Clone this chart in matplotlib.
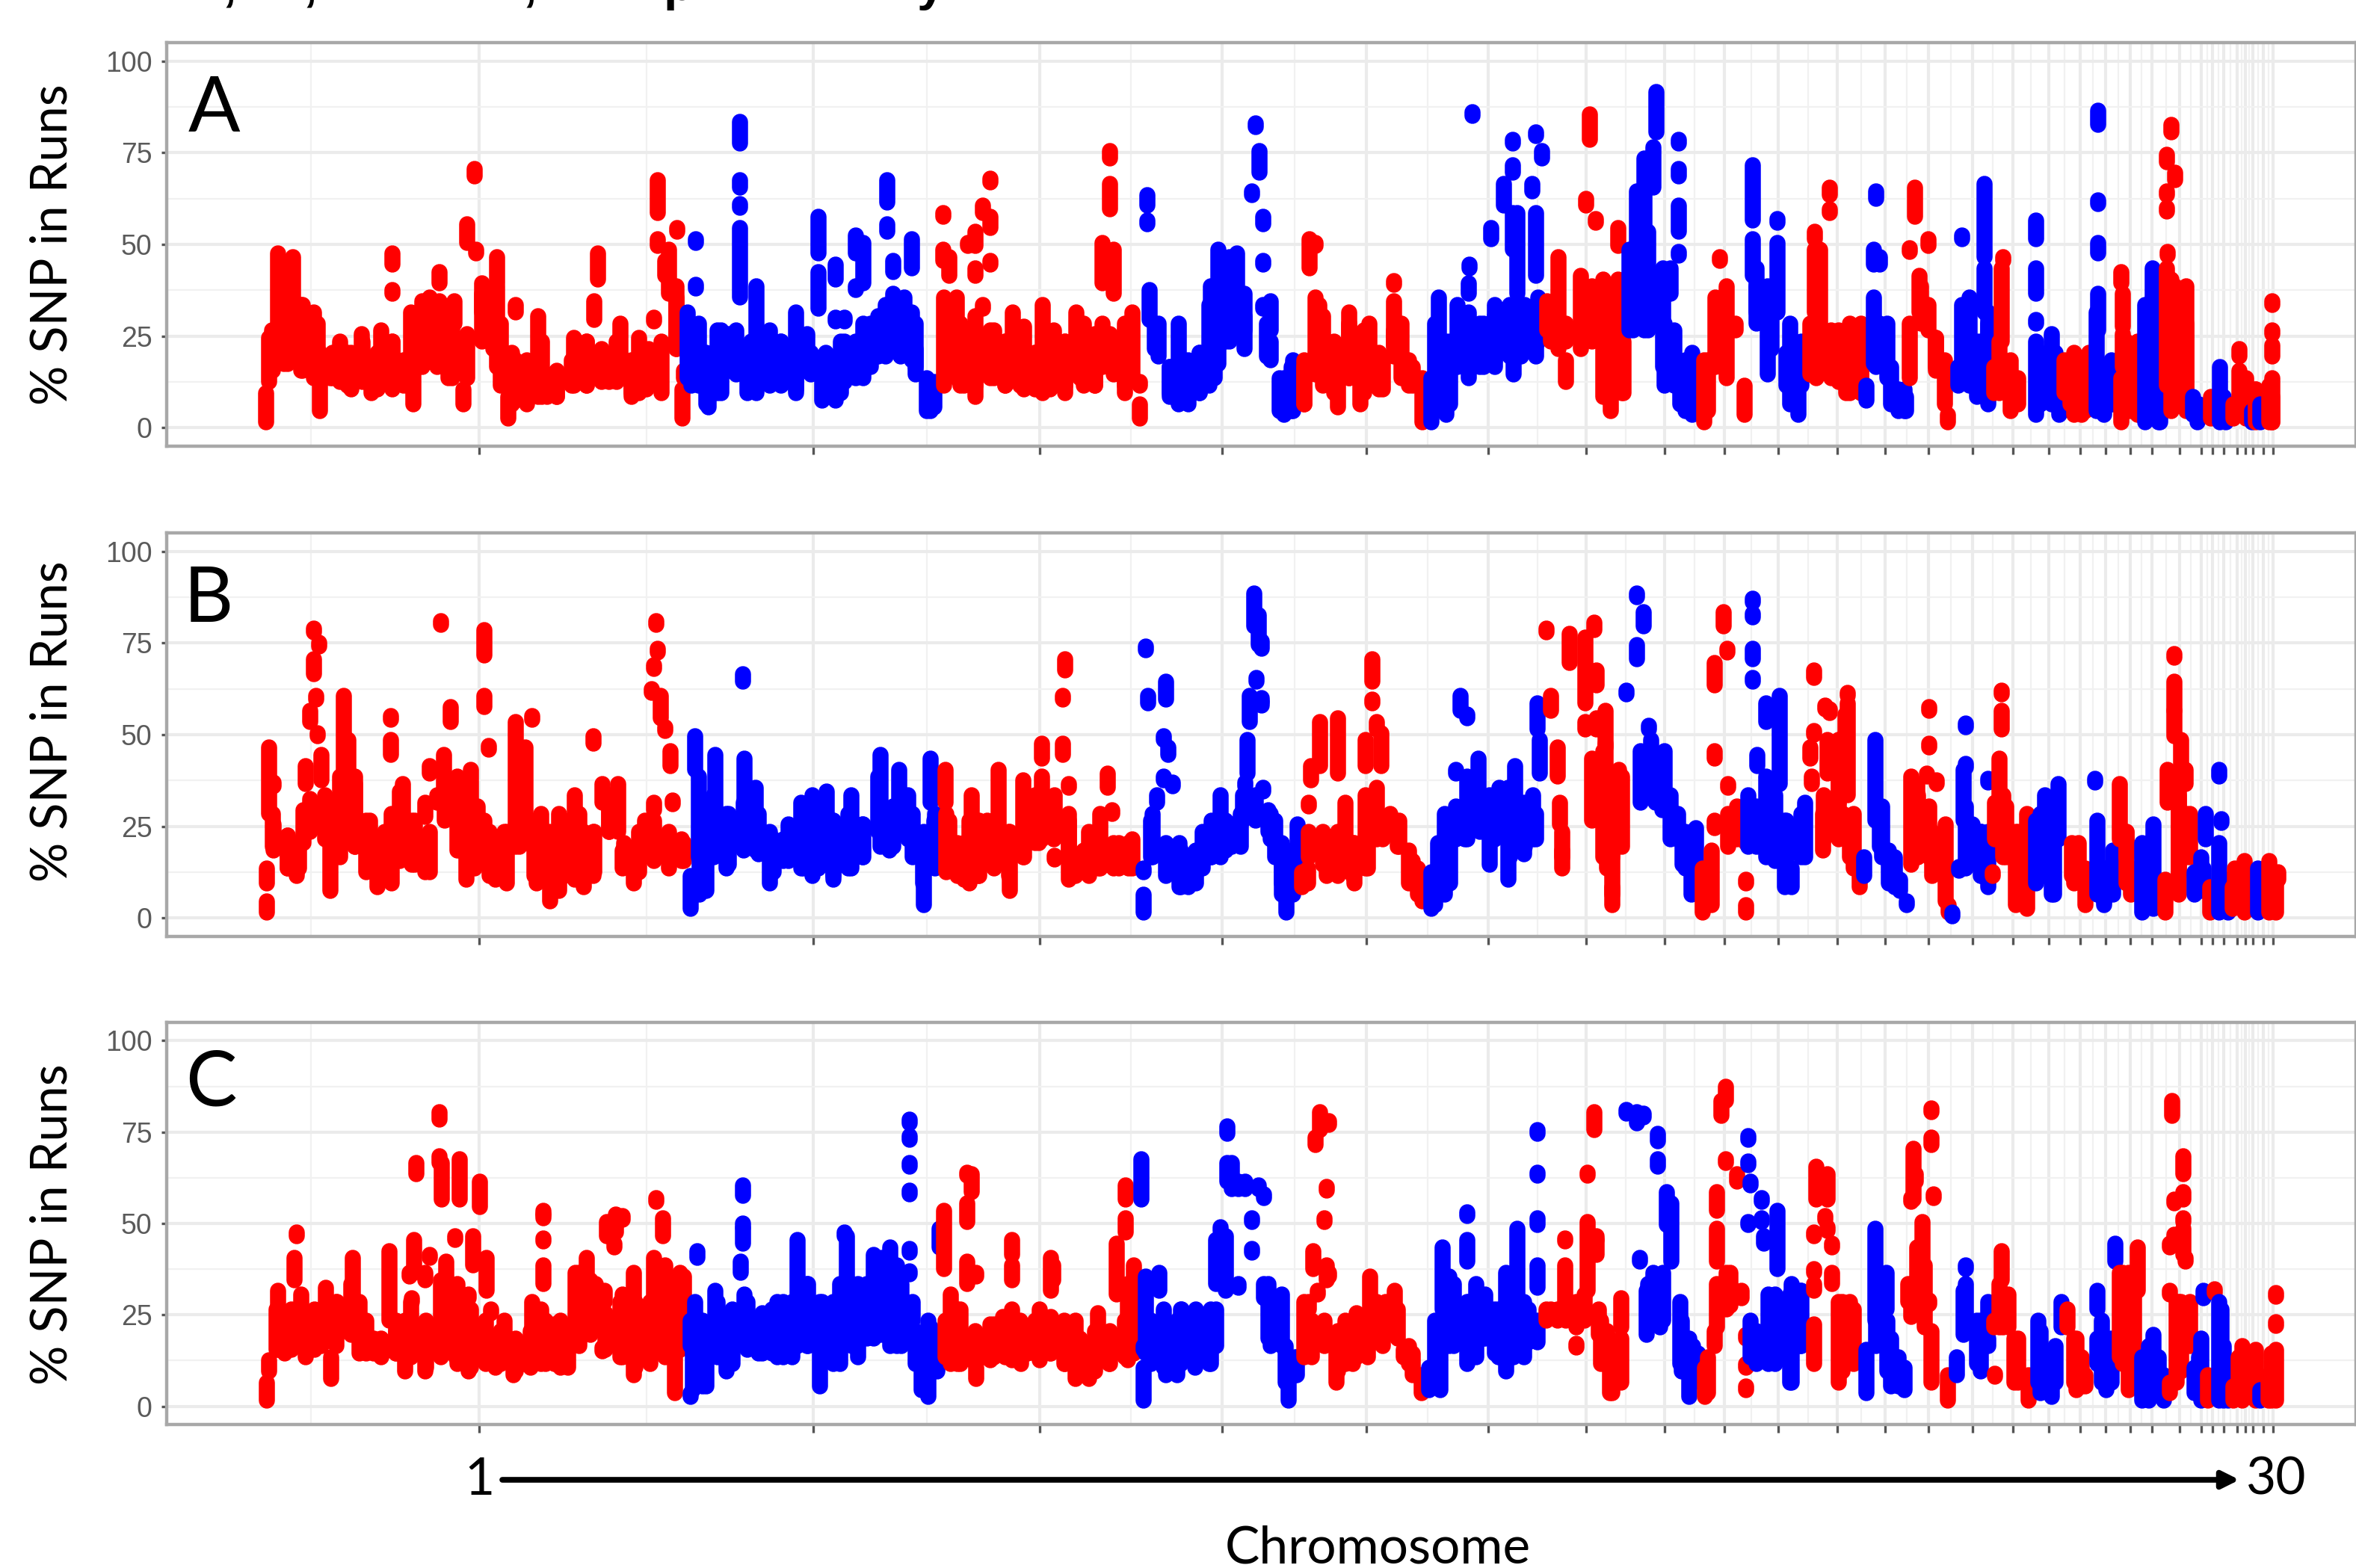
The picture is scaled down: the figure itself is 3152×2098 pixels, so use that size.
import numpy as np
import matplotlib
matplotlib.use("Agg")
import matplotlib.pyplot as plt
from matplotlib.collections import LineCollection
from matplotlib.patches import FancyArrowPatch

# genome position runs (low/high = % SNP in runs)
a_pos = [356, 360, 364, 372, 380, 392, 403, 420, 420, 428, 442, 455, 470, 484, 497, 510,
         525, 525, 525, 540, 553, 550, 565, 575, 588, 588, 600, 608, 620, 620, 625, 635,
         637, 645, 660, 665, 670, 680, 690, 690, 705, 720, 732, 745, 768, 785, 795, 800,
         805, 815, 830, 845, 855, 868, 875, 880, 880, 890, 895, 906, 905, 915, 913,
         920, 931, 931, 935, 948, 960, 975, 990, 990, 990, 990, 1012, 1000, 1030, 1045, 1065, 1080,
         1095, 1095, 1100, 1118, 1118, 1118, 1130, 1130, 1145, 1145, 1155, 1155, 1175, 1187, 1187, 1195,
         1195, 1210, 1220, 1220, 1225, 1240, 1250,
         1262, 1262, 1263, 1270, 1280, 1290, 1295, 1305, 1305, 1305, 1315, 1315, 1325, 1325, 1325, 1330,
         1345, 1355, 1370, 1385, 1395, 1410, 1425, 1440, 1450, 1465, 1475, 1475, 1485, 1485, 1490, 1490,
         1505, 1515, 1525, 1525,
         1535, 1535, 1538, 1550, 1565, 1577, 1590, 1605, 1618, 1620, 1630, 1640, 1655, 1665, 1675, 1680,
         1685, 1690, 1690, 1690, 1700, 1700, 1718, 1730,
         1745, 1752, 1760, 1760, 1770, 1790, 1805, 1820, 1832, 1850, 1865, 1865, 1875, 1890, 1903,
         1915, 1925, 1935, 1950, 1965, 1965, 1966, 1970, 1985, 2000, 1995, 2012, 2024, 2024, 2024, 2025,
         2030, 2035, 2050, 2055, 2063, 2055, 2055,
         2070, 2085, 2095, 2115, 2127, 2122, 2135, 2130, 2145, 2155, 2155, 2165, 2165, 2172,
         2180, 2190, 2200, 2216, 2212, 2227, 2246, 2246, 2246, 2246, 2235, 2248, 2264,
         2280, 2295, 2301, 2310, 2322, 2334,
         2345, 2345, 2350, 2365, 2378, 2378, 2395, 2406,
         2422, 2428, 2428, 2435, 2448, 2448, 2460, 2475, 2490,
         2497, 2507, 2507, 2510, 2515, 2515, 2525, 2540, 2550,
         2555, 2555, 2562, 2568, 2580, 2580, 2590, 2602, 2606,
         2620, 2625, 2625, 2635, 2645, 2655, 2655, 2660,
         2668, 2678, 2680, 2690, 2700,
         2724, 2724, 2724, 2724, 2735, 2745, 2755,
         2762, 2775, 2785, 2795,
         2807, 2807, 2807, 2807, 2805, 2815, 2825,
         2838, 2840, 2840, 2838, 2850, 2860,
         2870, 2880, 2890,
         2899, 2899, 2899, 2900, 2910, 2905, 2905, 2925, 2899,
         2940, 2934, 2958, 2970, 2978,
         2996, 2996, 2988, 3005, 3013, 3018, 3024, 3040, 3040, 3040, 3040, 3036]
a_low = [0, 11, 14, 18, 16, 20, 14, 20, 12, 3, 12, 11, 9, 12, 8, 11,
         9, 36, 43, 10, 5, 18, 18, 23, 18, 38, 12, 27, 5, 13, 49, 67,
         46, 30, 20, 38, 10, 1, 6, 30, 5, 7, 7, 7, 10, 10, 28, 39,
         12, 11, 18, 7, 8, 10, 28, 48, 57, 40, 35, 52, 20, 12, 1,
         12, 49, 37, 10, 4, 8, 14, 76, 64, 59, 34, 8, 8, 10, 10, 8, 14,
         46, 31, 6, 6, 39, 28, 11, 28, 46, 36, 12, 38, 18, 52, 60, 20,
         41, 20, 17, 42, 13, 3, 4,
         57, 44, 10, 40, 12, 10, 49, 7, 40, 48, 57, 31, 67, 44, 53, 12,
         10, 12, 9, 9, 8, 10, 10, 15, 10, 10, 15, 38, 58, 72, 13, 35,
         8, 12, 1, 10,
         59, 54, 28, 18, 7, 5, 5, 8, 10, 27, 16, 22, 24, 20, 62, 81,
         68, 54, 43, 31, 25, 17, 2, 3,
         5, 42, 13, 48, 10, 4, 12, 5, 10, 9, 21, 38, 12, 10, 0,
         0, 8, 2, 15, 12, 35, 42, 84, 15, 15, 50, 59, 77, 68, 47, 13,
         35, 18, 63, 18, 72, 78, 40,
         25, 20, 11, 22, 77, 59, 55, 22, 7, 3, 18, 48, 10, 8,
         25, 30, 25, 79, 64, 10, 76, 67, 52, 46, 35, 5, 2,
         0, 15, 45, 12, 25, 2,
         55, 40, 30, 13, 55, 30, 5, 2,
         13, 50, 30, 20, 62, 58, 11, 8, 8,
         6, 16, 43, 61, 22, 43, 12, 3, 3,
         12, 47, 56, 30, 25, 48, 14, 5, 0,
         10, 12, 50, 10, 7, 45, 30, 5,
         8, 22, 45, 3, 5,
         2, 35, 28, 50, 7, 5, 2,
         8, 2, 2, 10,
         81, 60, 46, 25, 3, 2, 5,
         0, 26, 15, 38, 3, 2,
         0, 20, 0,
         10, 62, 71, 46, 66, 79, 3, 3, 58,
         0, 2, 1, 0, 0,
         2, 18, 1, 1, 0, 0, 0, 33, 25, 18, 0, 0]
a_high = [11, 26, 28, 49, 40, 48, 35, 33, 20, 22, 20, 25, 22, 27, 19, 28,
          25, 38, 49, 20, 16, 33, 36, 37, 36, 44, 25, 36, 12, 25, 57, 72,
          50, 41, 32, 48, 30, 10, 20, 35, 15, 32, 16, 16, 26, 25, 36, 49,
          23, 20, 30, 13, 26, 23, 31, 53, 69, 47, 50, 56, 37, 17, 12,
          33, 53, 40, 30, 14, 28, 27, 85, 69, 62, 56, 40, 20, 28, 25, 33, 27,
          59, 44, 20, 21, 46, 31, 25, 31, 54, 40, 30, 52, 32, 57, 69, 38,
          47, 37, 33, 53, 23, 15, 14,
          59, 50, 37, 48, 37, 25, 51, 32, 45, 55, 62, 35, 68, 46, 59, 28,
          25, 33, 29, 22, 35, 28, 25, 33, 30, 17, 30, 52, 68, 77, 25, 50,
          28, 33, 8, 14,
          65, 58, 39, 30, 18, 30, 20, 22, 35, 40, 50, 45, 49, 32, 66, 84,
          77, 59, 47, 35, 36, 25, 15, 20,
          18, 53, 37, 52, 32, 17, 33, 25, 30, 20, 36, 41, 30, 18, 15,
          15, 37, 25, 35, 33, 41, 46, 87, 30, 35, 56, 68, 79, 73, 60, 35,
          60, 32, 68, 35, 77, 82, 60,
          36, 48, 20, 43, 87, 64, 58, 40, 42, 15, 30, 56, 42, 25,
          50, 66, 75, 93, 78, 30, 80, 72, 62, 49, 45, 15, 22,
          20, 37, 47, 40, 30, 13,
          73, 53, 45, 40, 58, 52, 30, 15,
          30, 55, 50, 50, 67, 60, 28, 30, 30,
          13, 37, 50, 66, 30, 48, 30, 12, 10,
          30, 50, 67, 43, 35, 53, 26, 20, 5,
          18, 35, 54, 37, 25, 68, 45, 30,
          18, 45, 47, 20, 15,
          25, 45, 30, 58, 18, 27, 15,
          20, 22, 15, 22,
          88, 63, 52, 38, 33, 14, 20,
          15, 38, 27, 44, 20, 25,
          35, 45, 18,
          45, 66, 76, 49, 71, 84, 42, 30, 61,
          8, 10, 10, 18, 5,
          17, 23, 8, 15, 6, 12, 8, 35, 27, 24, 15, 13]

# solid lower band of panel A
a_band_pos = [365, 385, 405, 425, 445, 465, 485, 505, 525, 545, 565, 585, 605, 625, 645, 665, 685, 705, 725, 745,
              765, 785, 805, 825, 845, 865, 885, 905,
              925, 945, 965, 985, 1005, 1025, 1045, 1065, 1085, 1105, 1125, 1145, 1165, 1185, 1205, 1225, 1245,
              1265, 1285, 1305, 1325, 1345, 1365, 1385, 1405, 1425, 1445, 1465, 1485, 1505,
              1545, 1565, 1585, 1605, 1625, 1645, 1665, 1695, 1712, 1728,
              1745, 1765, 1785, 1805, 1825, 1845, 1865, 1885,
              1920, 1940, 1960, 1980, 2000, 2020, 2040, 2058,
              2075, 2095, 2115, 2135, 2150, 2170,
              2185, 2205, 2225, 2240, 2255,
              2285, 2305,
              2350, 2370, 2390, 2410,
              2430, 2450, 2470, 2490,
              2510, 2530, 2548,
              2570, 2590,
              2630, 2650, 2660,
              2675, 2695,
              2730, 2750,
              2770, 2790,
              2812, 2828,
              2845,
              2875, 2888,
              2910, 2925,
              2942, 2975,
              3005, 3018, 3040]
a_band_low = [14, 16, 14, 13, 12, 10, 11, 9, 10, 10, 15, 15, 12, 12, 22, 15, 5, 6, 7, 7,
              10, 10, 11, 11, 8, 9, 8, 20,
              10, 5, 8, 13, 9, 12, 11, 9, 13, 7, 8, 12, 15, 18, 18, 15, 3,
              12, 10, 10, 12, 10, 10, 10, 9, 8, 12, 10, 15, 10,
              20, 8, 6, 8, 12, 22, 25, 18, 3, 3,
              5, 15, 8, 12, 8, 9, 18, 10,
              4, 5, 15, 15, 17, 18, 20, 22,
              22, 22, 20, 25, 8, 8,
              25, 25, 15, 10, 3,
              3, 15,
              27, 20, 10, 10,
              12, 12, 8, 8,
              15, 5, 3,
              27, 15,
              12, 8, 10,
              8, 5,
              5, 5,
              5, 3,
              3, 5,
              10,
              5, 0,
              5, 8,
              2, 2,
              3, 2, 0]
a_band_high = [28, 40, 35, 30, 22, 22, 25, 22, 25, 20, 30, 35, 30, 27, 38, 40, 22, 20, 25, 17,
               20, 25, 20, 25, 20, 22, 25, 40,
               25, 22, 28, 28, 25, 27, 25, 25, 22, 22, 25, 25, 30, 35, 30, 30, 14,
               35, 30, 28, 28, 25, 25, 22, 25, 25, 30, 27, 27, 30,
               30, 18, 20, 22, 38, 48, 38, 30, 15, 18,
               20, 35, 25, 30, 28, 22, 28, 20,
               30, 25, 30, 30, 32, 35, 35, 37,
               30, 30, 30, 35, 28, 30,
               40, 55, 45, 28, 20,
               20, 37,
               40, 35, 22, 25,
               28, 28, 28, 28,
               30, 18, 12,
               40, 26,
               30, 25, 33,
               25, 15,
               22, 22,
               20, 15,
               14, 15,
               25,
               30, 20,
               40, 40,
               8, 10,
               12, 12, 10]

b_pos = [357, 357, 360, 366, 366, 385, 397, 406, 409, 420, 420, 423, 415, 425, 427, 430, 442,
         460, 466, 475, 490, 505, 524, 523, 523, 539, 551, 569, 569, 575, 590, 585, 594, 603, 612,
         624, 630, 639, 648, 648, 654, 648, 663, 678, 690, 703, 712, 718, 736, 724, 748, 769, 781,
         794, 794, 806, 815, 827, 833, 848, 863, 875, 872, 875, 880, 878, 884, 890, 897, 900, 912, 924,
         930, 936, 945, 957, 972, 994, 996, 1011, 1030, 1048, 1072, 1087, 1106, 1115, 1139, 1154,
         1178, 1190, 1203, 1221, 1236, 1245, 1251,
         1265, 1266, 1281, 1297, 1300, 1309, 1321, 1336, 1351, 1369, 1385, 1394, 1394, 1411, 1411, 1422,
         1425, 1422, 1430, 1430, 1439, 1457, 1472, 1482, 1488, 1497, 1515, 1530, 1530,
         1533, 1536, 1542, 1548, 1557, 1563, 1560, 1557, 1569, 1578, 1590, 1609, 1621, 1633, 1648, 1663,
         1666, 1669, 1672, 1678, 1681, 1684, 1688, 1681, 1688, 1688, 1690, 1697, 1706, 1715, 1721, 1730,
         1736,
         1742, 1751, 1751, 1754, 1766, 1775, 1790, 1800, 1812, 1827, 1827, 1836, 1836, 1842, 1842, 1848,
         1860, 1872, 1885, 1897, 1903,
         1915, 1924, 1933, 1948, 1948, 1954, 1963, 1963, 1978, 1993, 2006, 2018, 2027, 2039, 2051, 2057,
         2060,
         2069, 2075, 2084, 2087, 2090, 2100, 2121, 2133, 2121, 2148, 2145, 2157, 2136, 2136, 2148, 2157,
         2157, 2166,
         2176, 2190, 2199, 2190, 2206, 2209, 2227, 2206, 2224, 2245, 2251, 2263, 2269,
         2278, 2290, 2294, 2294, 2294, 2306, 2311, 2312, 2312, 2324, 2336, 2336, 2336,
         2339, 2345, 2345, 2345, 2345, 2351, 2363, 2363, 2381, 2375, 2388, 2397, 2415,
         2427, 2427, 2424, 2422, 2442, 2439, 2445, 2448, 2469, 2472, 2472, 2460, 2466, 2475, 2488,
         2494, 2509, 2518, 2527, 2542, 2551,
         2557, 2566, 2578, 2581, 2581, 2581, 2603, 2591, 2607, 2612,
         2621, 2630, 2630, 2627, 2639, 2651, 2660, 2660,
         2666, 2678, 2678, 2675, 2669, 2684, 2697, 2712,
         2736, 2724, 2748, 2754,
         2772, 2781, 2790,
         2803, 2806, 2815, 2827,
         2836, 2845, 2851,
         2866, 2881, 2897,
         2900, 2909, 2909, 2918, 2924, 2915, 2930, 2909,
         2936, 2951, 2948,
         2957,
         2969, 2972, 2969, 2981,
         2990, 3003, 2997, 2987,
         3021, 3036, 3045, 3048]
b_low = [0, 8, 27, 17, 35, 12, 10, 19, 35, 78, 65, 58, 52, 48, 74, 36, 6,
         27, 38, 18, 11, 7, 8, 53, 43, 15, 13, 11, 26, 38, 79, 30, 33, 52, 17,
         9, 28, 22, 70, 56, 46, 20, 9, 8, 18, 19, 53, 8, 3, 12, 6, 9, 7,
         46, 10, 30, 22, 22, 12, 8, 16, 28, 60, 67, 71, 79, 53, 50, 40, 30, 14, 1,
         39, 5, 6, 18, 12, 63, 18, 17, 8, 14, 12, 10, 17, 9, 12, 15,
         18, 17, 25, 15, 2, 30, 12,
         30, 11, 10, 8, 25, 10, 14, 20, 6, 15, 19, 42, 20, 16, 22, 58,
         66, 43, 9, 35, 10, 10, 12, 34, 28, 12, 12, 0, 12,
         72, 57, 15, 30, 48, 43, 58, 36, 35, 7, 7, 12, 15, 15, 18, 25,
         35, 38, 52, 78, 80, 73, 72, 64, 59, 57, 34, 22, 15, 5, 0, 5,
         15,
         7, 15, 30, 36, 40, 10, 38, 12, 8, 12, 40, 63, 58, 20, 50, 40,
         22, 18, 8, 5, 3,
         1, 8, 5, 20, 38, 55, 20, 53, 30, 13, 25, 9, 20, 16, 20, 50,
         38,
         77, 55, 37, 24, 12, 68, 57, 77, 50, 45, 15, 5, 62, 50, 40, 2,
         15, 20,
         60, 69, 78, 87, 50, 40, 32, 33, 28, 20, 13, 5, 12,
         0, 2, 42, 23, 62, 78, 72, 35, 18, 20, 0, 9, 20,
         18, 85, 81, 69, 63, 40, 52, 15, 35, 14, 7, 7, 15,
         64, 49, 35, 42, 57, 17, 38, 55, 38, 32, 60, 30, 25, 15, 7,
         10, 25, 15, 8, 6, 2,
         13, 15, 38, 55, 46, 15, 3, 36, 0, 0,
         12, 52, 40, 25, 15, 10, 7, 37,
         10, 60, 50, 25, 20, 15, 2, 1,
         10, 8, 5, 20,
         10, 12, 2,
         37, 5, 2, 5,
         20, 15, 5,
         0, 1, 0,
         30, 55, 71, 40, 35, 5, 15, 48,
         5, 20, 7,
         0,
         37, 25, 0, 0,
         3, 0, 5, 1,
         0, 0, 0, 9]
b_high = [6, 15, 48, 27, 38, 24, 20, 31, 43, 79, 72, 62, 58, 52, 75, 46, 22,
          62, 50, 40, 28, 22, 30, 56, 50, 38, 28, 21, 33, 43, 82, 35, 46, 59, 40,
          20, 42, 32, 80, 62, 47, 28, 22, 25, 55, 48, 56, 28, 20, 30, 30, 35, 25,
          51, 25, 38, 35, 38, 20, 20, 28, 33, 64, 70, 75, 82, 62, 53, 47, 33, 23, 13,
          51, 30, 20, 46, 30, 68, 45, 37, 25, 23, 33, 35, 36, 28, 35, 27,
          46, 25, 42, 30, 25, 45, 30,
          42, 30, 22, 28, 35, 25, 28, 42, 25, 39, 35, 49, 40, 17, 35, 62,
          72, 49, 30, 37, 15, 25, 30, 41, 30, 22, 23, 8, 14,
          75, 62, 30, 35, 50, 48, 66, 40, 38, 22, 17, 25, 28, 35, 27, 35,
          38, 50, 62, 90, 83, 84, 77, 66, 60, 60, 36, 31, 28, 20, 8, 20,
          27,
          14, 25, 32, 43, 55, 22, 56, 33, 22, 35, 50, 72, 60, 37, 55, 52,
          30, 28, 20, 15, 10,
          14, 22, 30, 32, 42, 62, 40, 57, 45, 35, 37, 37, 43, 33, 35, 60,
          50,
          80, 62, 48, 33, 20, 79, 78, 82, 55, 58, 47, 40, 69, 56, 49, 10,
          30, 42,
          63, 76, 85, 89, 54, 50, 47, 35, 32, 30, 22, 25, 26,
          15, 20, 47, 28, 71, 85, 74, 37, 30, 32, 5, 11, 22,
          35, 88, 84, 75, 67, 46, 60, 40, 62, 35, 28, 15, 33,
          69, 52, 40, 48, 58, 30, 50, 58, 57, 60, 62, 50, 30, 28, 15,
          18, 50, 32, 20, 12, 6,
          40, 35, 40, 59, 48, 32, 27, 38, 5, 2,
          15, 53, 43, 42, 27, 25, 25, 38,
          14, 63, 58, 45, 33, 32, 25, 30,
          35, 28, 30, 38,
          22, 22, 15,
          38, 28, 15, 20,
          38, 25, 15,
          22, 27, 12,
          42, 66, 72, 50, 42, 35, 30, 58,
          14, 30, 15,
          10,
          42, 28, 22, 12,
          15, 17, 12, 10,
          15, 17, 13, 14]

# solid lower band of panel B
b_band_pos = [365, 385, 400, 415, 435, 455, 475, 495, 515, 535, 555, 575, 595, 615, 635, 655, 675, 695, 715, 735,
              755, 775, 795, 815, 835, 855, 875, 895, 915,
              935, 955, 975, 995, 1015, 1035, 1055, 1075, 1095, 1115, 1135, 1155, 1175, 1195, 1215, 1235, 1250,
              1270, 1290, 1310, 1330, 1350, 1370, 1390, 1410, 1430, 1450, 1470, 1490, 1510,
              1540, 1560, 1580, 1600, 1620, 1640, 1660, 1680, 1700, 1715, 1730,
              1750, 1770, 1790, 1810, 1830, 1850, 1870, 1890,
              1920, 1940, 1960, 1980, 2000, 2020, 2040, 2055,
              2090, 2130, 2150, 2170,
              2195, 2215, 2235, 2255,
              2285, 2320,
              2350, 2370, 2390, 2410,
              2440, 2460, 2480,
              2515, 2535,
              2565, 2585,
              2630, 2650,
              2680, 2700,
              2730, 2745,
              2775,
              2815,
              2845,
              2875,
              2915, 2925,
              2945]
b_band_low = [18, 12, 12, 22, 20, 15, 18, 12, 9, 14, 13, 11, 25, 17, 12, 10, 9, 18, 10, 8,
              10, 10, 11, 22, 13, 11, 14, 12, 14,
              15, 15, 13, 17, 16, 11, 14, 12, 12, 10, 12, 15, 22, 18, 20, 8, 13,
              12, 9, 10, 12, 10, 15, 19, 20, 15, 11, 12, 12, 12,
              15, 10, 7, 8, 15, 17, 18, 25, 20, 8, 7,
              8, 13, 10, 10, 12, 20, 18, 8,
              2, 8, 20, 22, 20, 15, 18, 20,
              15, 25, 12, 18,
              30, 30, 20, 12,
              2, 20,
              18, 15, 12, 15,
              20, 20, 12,
              18, 7,
              15, 10,
              12, 10,
              15, 5,
              10, 5,
              8,
              3,
              8,
              2,
              10, 15,
              6]
b_band_high = [30, 24, 22, 34, 35, 40, 38, 28, 25, 36, 28, 25, 38, 35, 30, 25, 25, 40, 28, 25,
               28, 30, 25, 33, 22, 25, 28, 25, 22,
               40, 35, 30, 33, 30, 23, 27, 30, 33, 28, 30, 27, 40, 32, 35, 20, 28,
               28, 22, 28, 28, 25, 32, 35, 32, 28, 20, 25, 22, 22,
               28, 22, 20, 20, 26, 28, 30, 35, 30, 22, 20,
               15, 25, 25, 22, 28, 28, 27, 17,
               12, 25, 32, 33, 35, 30, 32, 30,
               25, 45, 35, 40,
               47, 45, 35, 25,
               15, 30,
               32, 35, 28, 30,
               35, 50, 30,
               30, 18,
               38, 25,
               32, 25,
               35, 25,
               30, 28,
               20,
               15,
               25,
               22,
               40, 30,
               18]

c_pos = [357, 360, 372, 381, 394, 397, 403, 409, 421, 436, 443, 451, 460, 472, 481, 500, 512, 521, 530,
         542, 551, 554, 557, 548, 569, 569, 575, 588, 591, 588, 597, 615, 609, 612, 627, 627, 633, 642,
         651, 657, 663, 675, 687, 700, 712, 724, 727, 727, 727, 727, 742, 760, 775, 785, 806, 797, 809, 812,
         824, 822, 833, 833, 848, 878, 887, 875, 887, 903, 915, 924, 924,
         933, 930, 927, 945, 957, 972, 994, 994, 994, 991, 996, 1015, 1033, 1048, 1067, 1081, 1097, 1115,
         1124, 1133, 1130, 1148, 1169, 1191, 1206, 1217, 1217, 1217, 1217, 1217, 1217, 1221, 1233, 1245, 1242, 1254,
         1263, 1257, 1272, 1281, 1294, 1300, 1294, 1294, 1306, 1306, 1318, 1330, 1342, 1354, 1354, 1354, 1366,
         1375, 1391, 1406, 1406, 1409, 1424, 1439, 1457, 1469, 1484, 1494, 1506, 1506, 1509, 1517, 1527, 1530, 1530,
         1533, 1551, 1557, 1575, 1581, 1599, 1618, 1627, 1627, 1633, 1642, 1642, 1648, 1657, 1657, 1666, 1675, 1675,
         1684, 1691, 1691, 1697, 1715, 1724, 1733,
         1745, 1751, 1757, 1766, 1778, 1760, 1775, 1772, 1775, 1778, 1763, 1772, 1788, 1800, 1815, 1833, 1842,
         1866, 1854, 1878, 1890, 1902,
         1912, 1927, 1930, 1939, 1963, 1963, 1963, 1975, 1987, 2000, 2015, 2030, 2039, 2057, 2057, 2057, 2057, 2057,
         2069, 2084, 2094, 2094, 2109, 2109, 2124, 2124, 2136, 2133, 2142, 2157, 2136, 2139, 2154, 2169, 2169,
         2176, 2190, 2199, 2218, 2218, 2230, 2236, 2194, 2203, 2221, 2212, 2248, 2260, 2272,
         2281, 2294, 2297, 2297, 2297, 2303, 2309, 2309, 2324, 2315, 2330, 2336, 2336, 2336,
         2339, 2339, 2342, 2357, 2357, 2339, 2360, 2378, 2366, 2342, 2397, 2409,
         2427, 2427, 2427, 2427, 2430, 2445, 2445, 2442, 2451, 2451, 2460, 2475,
         2497, 2509, 2524, 2530, 2548,
         2553, 2557, 2557, 2560, 2563, 2584, 2584, 2572, 2587, 2581, 2584, 2606,
         2630, 2627, 2618, 2645, 2660, 2660,
         2668, 2669, 2678, 2675, 2687, 2700, 2714,
         2727, 2745, 2758,
         2766, 2778, 2790,
         2806, 2806, 2818, 2830,
         2848, 2860, 2836,
         2866, 2881, 2895,
         2903, 2903, 2906, 2912, 2921, 2921, 2921, 2921, 2909, 2909, 2903, 2924, 2918, 2930,
         2936, 2948, 2945,
         2954, 2963,
         2969, 2972, 2981,
         2988, 3000, 3018, 3024,
         3039, 3045, 3045, 3045]
c_low = [0, 8, 14, 13, 33, 46, 17, 12, 14, 17, 6, 20, 19, 20, 13, 13, 13, 22, 13,
         8, 28, 35, 62, 35, 8, 33, 40, 77, 55, 65, 30, 55, 45, 10, 8, 28, 37, 53,
         30, 24, 9, 15, 7, 10, 10, 10, 51, 44, 51, 32, 10, 9, 15, 25, 15, 25, 27, 45,
         46, 42, 50, 12, 7, 56, 45, 28, 25, 2, 22, 1, 15,
         39, 22, 3, 4, 20, 8, 56, 48, 43, 35, 18, 13, 13, 12, 15, 15, 4, 10,
         10, 30, 46, 12, 17, 15, 15, 76, 73, 64, 58, 42, 36, 22, 3, 10, 1, 8,
         36, 42, 10, 10, 49, 57, 62, 32, 34, 6, 12, 12, 15, 11, 33, 40, 10,
         13, 11, 13, 30, 33, 10, 6, 6, 12, 10, 29, 46, 55, 11, 13, 55, 0, 15,
         13, 30, 9, 7, 13, 9, 10, 15, 32, 47, 73, 60, 58, 58, 32, 58, 50, 42,
         58, 57, 28, 17, 15, 0, 7,
         12, 25, 36, 74, 76, 70, 58, 50, 33, 35, 30, 15, 5, 10, 12, 24, 16,
         20, 20, 12, 7, 2,
         3, 3, 25, 15, 10, 52, 38, 12, 17, 13, 8, 15, 12, 16, 31, 48, 62, 73,
         22, 22, 44, 25, 16, 20, 30, 62, 45, 74, 10, 2, 40, 18, 2, 5, 20,
         80, 76, 78, 71, 64, 48, 38, 38, 18, 20, 25, 10, 1, 9,
         1, 15, 52, 38, 20, 78, 82, 66, 60, 26, 28, 4, 10, 18,
         72, 66, 60, 55, 50, 49, 43, 36, 10, 12, 5, 15,
         10, 30, 36, 46, 55, 55, 47, 50, 42, 32, 5, 12,
         2, 22, 25, 4, 3,
         27, 23, 55, 55, 60, 80, 70, 30, 57, 27, 5, 0,
         36, 18, 7, 10, 22, 15,
         20, 7, 33, 20, 20, 5, 0,
         5, 1, 20,
         20, 3, 4,
         25, 10, 3, 38,
         3, 30, 12,
         0, 3, 0,
         2, 30, 78, 5, 62, 55, 50, 40, 55, 46, 42, 38, 8, 15,
         2, 28, 0,
         0, 30,
         0, 10, 0,
         0, 0, 0, 0,
         0, 0, 30, 21]
c_high = [8, 14, 33, 27, 42, 48, 32, 22, 28, 34, 15, 30, 28, 42, 30, 20, 18, 44, 22,
          25, 30, 47, 68, 37, 22, 38, 42, 82, 68, 70, 41, 69, 47, 35, 22, 32, 48, 63,
          42, 28, 20, 25, 17, 18, 30, 28, 53, 47, 55, 40, 24, 20, 38, 42, 16, 35, 33, 52,
          54, 46, 53, 32, 38, 57, 53, 42, 36, 17, 37, 5, 25,
          44, 30, 25, 13, 33, 25, 62, 51, 50, 41, 32, 25, 28, 30, 47, 35, 30, 30,
          35, 48, 48, 35, 43, 45, 35, 80, 74, 68, 59, 43, 37, 30, 13, 23, 25, 20,
          55, 50, 32, 28, 57, 65, 65, 41, 38, 12, 20, 24, 26, 28, 40, 47, 20,
          20, 28, 26, 42, 40, 25, 25, 18, 27, 20, 46, 53, 62, 35, 40, 69, 12, 17,
          37, 38, 28, 25, 28, 25, 25, 28, 47, 50, 78, 68, 68, 63, 34, 63, 52, 43,
          62, 58, 35, 35, 32, 15, 15,
          30, 30, 44, 82, 79, 75, 61, 52, 40, 37, 32, 25, 17, 25, 27, 37, 30,
          33, 30, 17, 16, 10,
          12, 25, 45, 37, 30, 53, 47, 35, 32, 28, 38, 50, 30, 25, 40, 53, 65, 77,
          28, 28, 47, 40, 17, 30, 52, 65, 47, 82, 25, 12, 47, 28, 20, 20, 31,
          81, 82, 81, 76, 69, 60, 57, 42, 33, 36, 38, 30, 20, 16,
          12, 22, 60, 50, 35, 85, 89, 68, 65, 38, 33, 6, 12, 20,
          75, 67, 62, 58, 52, 51, 48, 55, 32, 25, 35, 33,
          24, 35, 38, 48, 67, 65, 50, 53, 46, 38, 30, 30,
          17, 50, 38, 20, 12,
          35, 35, 58, 72, 65, 82, 75, 52, 58, 30, 22, 10,
          40, 33, 15, 25, 30, 20,
          25, 10, 44, 35, 32, 20, 10,
          25, 15, 30,
          28, 20, 10,
          33, 20, 20, 46,
          38, 45, 38,
          15, 21, 10,
          8, 32, 85, 30, 70, 60, 52, 50, 57, 47, 46, 42, 30, 30,
          12, 33, 20,
          10, 33,
          30, 28, 8,
          7, 18, 17, 6,
          16, 17, 31, 24]

# solid lower band of panel C
c_band_pos = [370, 390, 410, 430, 450, 470, 490, 510, 530, 550, 570, 590, 610, 630, 650, 670, 690, 710, 730, 750,
              770, 790, 810, 830, 850, 870, 890, 910,
              940, 960, 980, 1000, 1020, 1040, 1060, 1080, 1100, 1120, 1140, 1160, 1180, 1200, 1225,
              1265, 1285, 1305, 1325, 1345, 1365, 1385, 1405, 1425, 1445, 1465, 1485, 1505,
              1540, 1560, 1580, 1600, 1620, 1640, 1700, 1720, 1735,
              1755, 1790, 1810, 1830, 1850, 1870, 1885,
              1920, 1945, 1965, 1985, 2005, 2025, 2045,
              2075, 2095, 2120, 2150,
              2205, 2225, 2250, 2265,
              2285, 2310,
              2350, 2375, 2395, 2410,
              2465, 2480,
              2510, 2525, 2540,
              2565, 2575,
              2630, 2650,
              2680, 2695,
              2730, 2750,
              2775, 2785,
              2812, 2825,
              2840, 2855,
              2875, 2888,
              2915,
              2942, 2958, 2975,
              2995, 3010, 3035]
c_band_low = [14, 14, 13, 15, 15, 18, 13, 12, 13, 12, 9, 12, 12, 9, 10, 10, 8, 9, 10, 9,
              18, 18, 14, 12, 9, 10, 12, 14,
              4, 12, 10, 14, 13, 12, 12, 15, 12, 12, 15, 17, 18, 15, 10,
              12, 10, 10, 11, 12, 12, 13, 13, 10, 7, 8, 10, 12,
              10, 7, 10, 10, 10, 30, 15, 5, 7,
              12, 8, 10, 12, 15, 17, 10,
              5, 15, 15, 17, 12, 12, 16,
              23, 22, 22, 10,
              20, 22, 8, 5,
              2, 25,
              10, 10, 5, 15,
              8, 10,
              15, 8, 4,
              30, 20,
              20, 8,
              20, 5,
              2, 5,
              5, 4,
              5, 5,
              10, 5,
              0, 2,
              10,
              2, 1, 0,
              2, 2, 0]
c_band_high = [28, 28, 25, 25, 30, 35, 25, 20, 25, 30, 25, 36, 33, 28, 25, 22, 20, 22, 25, 25,
               38, 36, 27, 30, 30, 30, 40, 38,
               25, 30, 28, 30, 27, 30, 30, 35, 30, 30, 35, 35, 42, 40, 22,
               25, 28, 22, 24, 25, 25, 25, 25, 22, 20, 22, 22, 25,
               25, 20, 28, 28, 28, 48, 30, 18, 15,
               25, 22, 25, 27, 27, 28, 18,
               25, 35, 30, 30, 28, 32, 28,
               28, 30, 32, 22,
               35, 38, 25, 18,
               15, 38,
               22, 32, 32, 33,
               30, 28,
               30, 25, 15,
               45, 40,
               35, 25,
               32, 20,
               22, 18,
               20, 15,
               25, 20,
               38, 35,
               18, 15,
               30,
               15, 8, 18,
               15, 15, 10]

panel_letters = ["A", "B", "C"]
y_ticks = [0, 25, 50, 75, 100]
chrom_ticks = [641, 1088, 1391, 1635, 1828, 1991, 2122, 2227, 2307, 2379, 2458, 2522, 2580, 2639, 2693,
               2741, 2783, 2817, 2850, 2879, 2916, 2945, 2960, 2975, 2993, 3004, 3014, 3028, 3041]
chrom_edges = [345, 917, 1258, 1527, 1738, 1905, 2068, 2175, 2276, 2338, 2420, 2494, 2553, 2610, 2666,
               2717, 2761, 2800, 2833, 2865, 2897, 2931, 2952, 2965, 2984, 3012, 3014, 3021, 3034, 3052]

W, H = 3152, 2098
RED = "#ff0000"
BLUE = "#0000ff"
plt.rcParams["font.family"] = ["Lato", "DejaVu Sans"]

fig = plt.figure(figsize=(W / 100, H / 100), dpi=100)


def add_panel(top, bottom, pos, low, high, band_pos, band_low, band_high, letter, letter_xy, label_y):
    ax = fig.add_axes([223 / W, 1 - bottom / H, 1 - 223 / W, (bottom - top) / H])
    ax.set_xlim(223, W)
    ax.set_ylim(-5, 105)
    ax.set_axisbelow(True)

    major = np.array(chrom_ticks)
    minor = np.r_[416, (major[:-1] + major[1:]) / 2]
    ax.set_xticks(major)
    ax.set_xticks(minor, minor=True)
    ax.set_yticks(y_ticks)
    ax.set_yticks([12.5, 37.5, 62.5, 87.5], minor=True)
    ax.grid(which="major", color="#ebebeb", lw=3)
    ax.grid(which="minor", color="#f1f1f1", lw=1.6)
    ax.tick_params(axis="x", which="major", length=8, width=2.4, color="#555555", labelbottom=False)
    ax.tick_params(axis="y", which="major", length=5, width=2.4, color="#555555",
                   labelsize=27, labelcolor="#5a5a5a", pad=9)
    ax.tick_params(which="minor", length=0)
    for label in ax.get_yticklabels():
        label.set_family("Liberation Sans")
    for side in ax.spines.values():
        side.set_color("#a8a8a8")
        side.set_linewidth(3.2)

    # each run is one stack of overlapping SNP dots, drawn in genome order
    all_pos = np.r_[pos, band_pos].astype(float)
    all_low = np.r_[low, band_low].astype(float)
    all_high = np.r_[high, band_high].astype(float)
    order = np.argsort(all_pos, kind="stable")
    x = all_pos[order]
    mid = (all_low[order] + all_high[order]) / 2
    half = np.maximum((all_high[order] - all_low[order]) / 2 - 1.5, 0.5)  # short runs stay a single dot
    chrom = np.searchsorted(chrom_edges, x, side="right")
    colors = [RED if c % 2 == 1 else BLUE for c in chrom]
    segs = [[(a, m - h), (a, m + h)] for a, m, h in zip(x, mid, half)]
    ax.add_collection(LineCollection(segs, colors=colors, linewidths=15.5, capstyle="round", zorder=3))

    ax.set_ylabel("% SNP in Runs", fontsize=48, color="black", labelpad=0)
    ax.yaxis.set_label_coords(102 / W, 1 - label_y / H, transform=fig.transFigure)
    fig.text(letter_xy[0] / W, 1 - letter_xy[1] / H, letter, fontsize=74, ha="left", va="baseline")
    return ax


add_panel(57, 597, a_pos, a_low, a_high, a_band_pos, a_band_low, a_band_high, panel_letters[0], (252, 176), 327)
add_panel(713, 1253, b_pos, b_low, b_high, b_band_pos, b_band_low, b_band_high, panel_letters[1], (246, 832), 965)
add_panel(1368, 1906, c_pos, c_low, c_high, c_band_pos, c_band_low, c_band_high, panel_letters[2], (248, 1480), 1638)

# arrow under the bottom panel
fig.add_artist(FancyArrowPatch((672 / W, 1 - 1980 / H), (2996 / W, 1 - 1980 / H), transform=fig.transFigure,
                               arrowstyle="-|>", mutation_scale=34, lw=5.5, color="black",
                               shrinkA=0, shrinkB=0))
fig.text(641 / W, 1 - 1980 / H, "1", fontsize=50, ha="center", va="center")
fig.text(3045 / W, 1 - 1980 / H, "30", fontsize=50, ha="center", va="center")
fig.text(1843 / W, 1 - 2072 / H, "Chromosome", fontsize=50, ha="center", va="center")

# the title was cut off by the crop, only the descenders remain
for ch, px in zip([",", ",", ",", "p", "y"], [298, 405, 699, 888, 1226]):
    fig.text(px / W, 1.0, ch, fontsize=48, fontweight="bold", family="Liberation Sans",
             ha="left", va="baseline")

fig.savefig("out.png", dpi=100)
